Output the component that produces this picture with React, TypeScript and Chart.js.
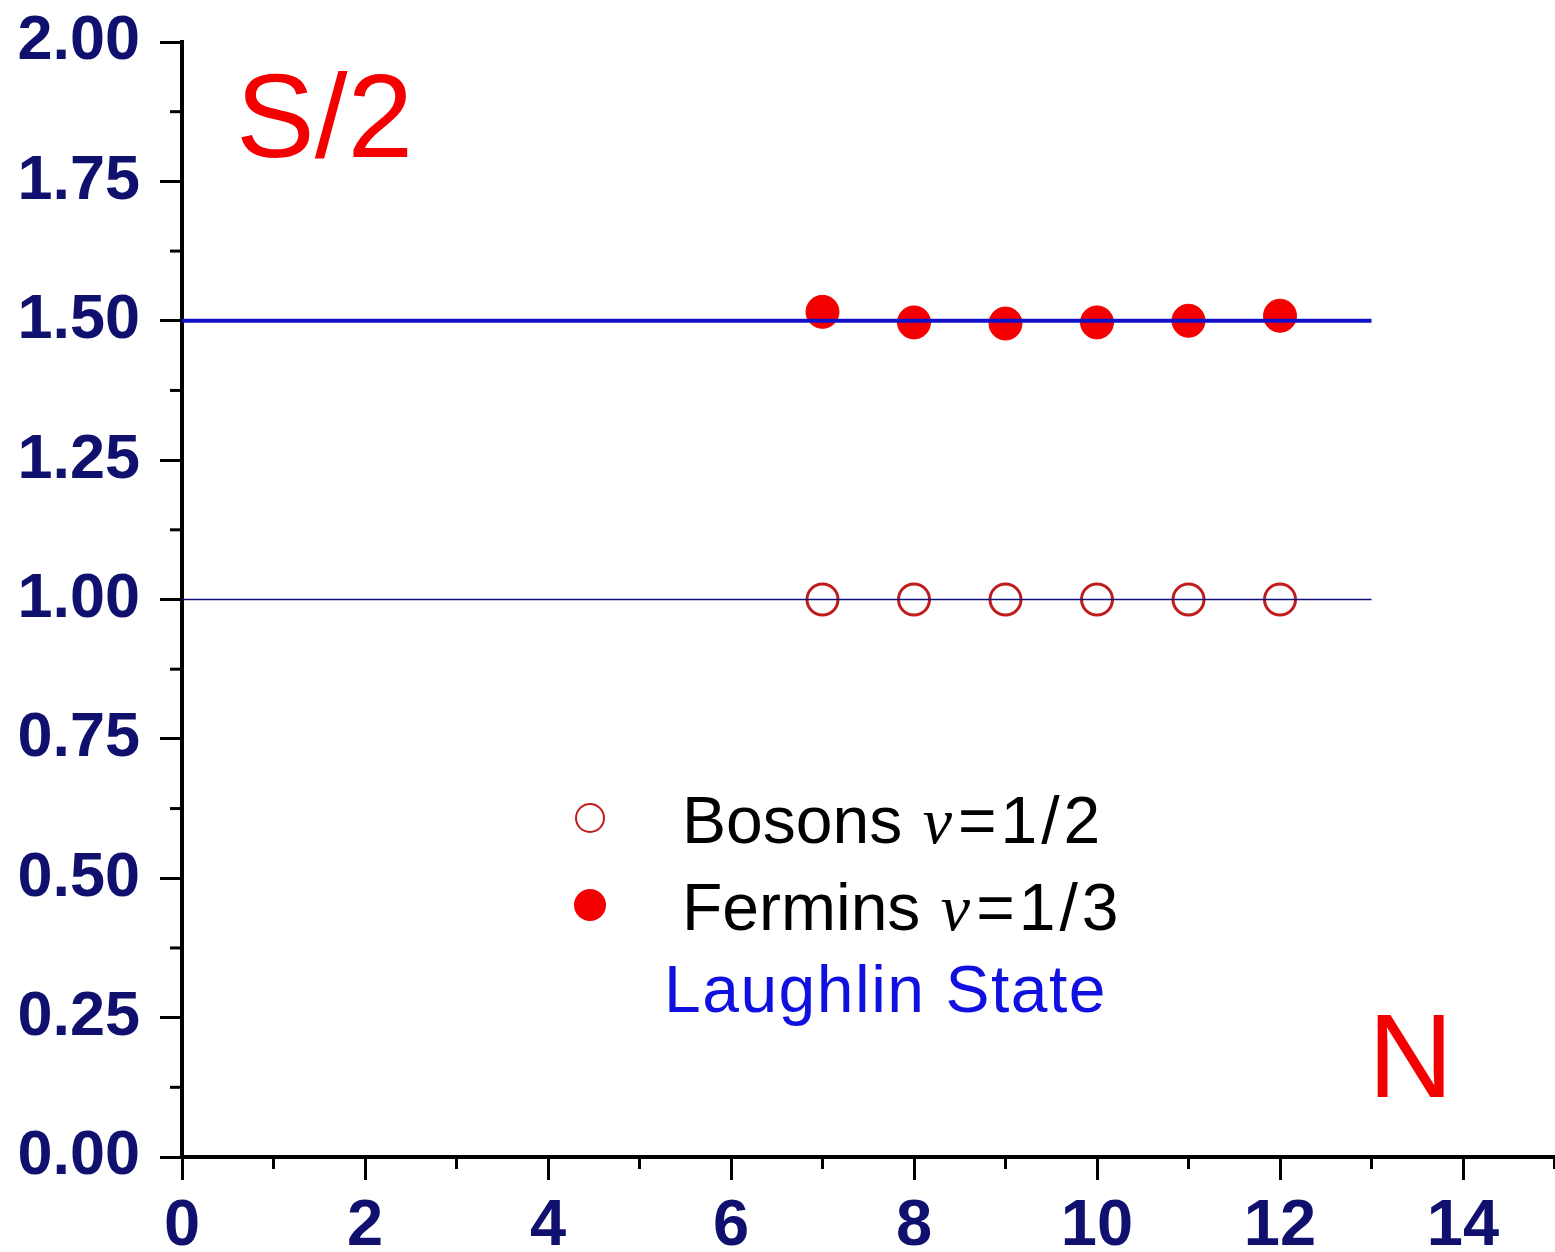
import React, { useEffect, useRef } from "react";
import { Chart, registerables } from "chart.js";

Chart.register(...registerables);

const nValues = [7, 8, 9, 10, 11, 12];
const fermionS2 = [1.516, 1.497, 1.495, 1.497, 1.5, 1.509];
const bosonS2 = [1.0, 1.0, 1.0, 1.0, 1.0, 1.0];
const lineN = [0, 13];
const laughlinFermion = [1.5, 1.5];
const laughlinBoson = [1.0, 1.0];
const xMajorLabels = [0, 2, 4, 6, 8, 10, 12, 14];
const yMajorLabels = [0, 0.25, 0.5, 0.75, 1.0, 1.25, 1.5, 1.75, 2.0];

const LABEL_COLOR = "#10106f";
const AXIS_LEFT = 182;
const AXIS_BOTTOM = 1157;
const VIEW_W = 1555;
const VIEW_H = 1252;
const CANVAS_W = 1573;

const isMajorX = (v: number) => xMajorLabels.some((m) => Math.abs(m - v) < 1e-6);
const isMajorY = (v: number) => yMajorLabels.some((m) => Math.abs(m - v) < 1e-6);

const minorTicks = {
  id: "minorTicks",
  afterDraw(chart: any) {
    const ctx = chart.ctx;
    const xs = chart.scales.x;
    const ys = chart.scales.y;
    ctx.save();
    ctx.strokeStyle = "#000";
    ctx.lineWidth = 3;
    xs.ticks.forEach((t: any) => {
      if (!isMajorX(t.value)) {
        const px = xs.getPixelForValue(t.value);
        ctx.beginPath();
        ctx.moveTo(px, ys.bottom);
        ctx.lineTo(px, ys.bottom + 12);
        ctx.stroke();
      }
    });
    ys.ticks.forEach((t: any) => {
      if (!isMajorY(t.value)) {
        const py = ys.getPixelForValue(t.value);
        ctx.beginPath();
        ctx.moveTo(xs.left - 12, py);
        ctx.lineTo(xs.left, py);
        ctx.stroke();
      }
    });
    ctx.restore();
  },
};

export default function App() {
  const ref = useRef<HTMLCanvasElement>(null);
  useEffect(() => {
    if (!ref.current) return;
    const chart = new Chart(ref.current, {
      type: "scatter",
      data: {
        datasets: [
          {
            type: "line",
            label: "Laughlin fermions",
            data: lineN.map((x, i) => ({ x, y: laughlinFermion[i] })),
            borderColor: "#1010c8",
            borderWidth: 4,
            pointRadius: 0,
          },
          {
            type: "line",
            label: "Laughlin bosons",
            data: lineN.map((x, i) => ({ x, y: laughlinBoson[i] })),
            borderColor: "#10107a",
            borderWidth: 1.5,
            pointRadius: 0,
          },
          {
            label: "Fermins ν=1/3",
            data: nValues.map((x, i) => ({ x, y: fermionS2[i] })),
            backgroundColor: "#f40000",
            borderColor: "#f40000",
            borderWidth: 1,
            pointRadius: 16.5,
            showLine: false,
          },
          {
            label: "Bosons ν=1/2",
            data: nValues.map((x, i) => ({ x, y: bosonS2[i] })),
            backgroundColor: "rgba(0,0,0,0)",
            borderColor: "#c01c1c",
            borderWidth: 3,
            pointRadius: 15.5,
            showLine: false,
          },
        ],
      },
      options: {
        animation: false,
        responsive: false,
        maintainAspectRatio: false,
        layout: { padding: { top: 42, right: 2, left: 0, bottom: 0 } },
        plugins: { legend: { display: false }, tooltip: { enabled: false } },
        scales: {
          x: {
            type: "linear",
            min: 0,
            max: 15,
            ticks: {
              stepSize: 1,
              autoSkip: false,
              maxRotation: 0,
              padding: 8,
              color: LABEL_COLOR,
              font: { family: "'Liberation Sans', Arial, sans-serif", size: 65, weight: "bold" },
              callback: (v: any) => (isMajorX(Number(v)) ? String(v) : ""),
            },
            grid: {
              drawOnChartArea: false,
              drawTicks: true,
              tickLength: 23,
              tickWidth: 3,
              tickColor: (c: any) => (c.tick && isMajorX(c.tick.value) ? "#000" : "rgba(0,0,0,0)"),
            },
            border: { display: true, color: "#000", width: 4 },
            afterFit: (s: any) => {
              s.height = VIEW_H - AXIS_BOTTOM;
              s.paddingLeft = 0;
              s.paddingRight = 0;
            },
          },
          y: {
            type: "linear",
            min: 0,
            max: 2,
            ticks: {
              stepSize: 0.125,
              autoSkip: false,
              padding: 20,
              color: LABEL_COLOR,
              font: { family: "'Liberation Sans', Arial, sans-serif", size: 63, weight: "bold" },
              callback: (v: any) => (isMajorY(Number(v)) ? Number(v).toFixed(2) : ""),
            },
            grid: {
              drawOnChartArea: false,
              drawTicks: true,
              tickLength: 22,
              tickWidth: 3,
              tickColor: (c: any) => (c.tick && isMajorY(c.tick.value) ? "#000" : "rgba(0,0,0,0)"),
            },
            border: { display: true, color: "#000", width: 4 },
            afterFit: (s: any) => {
              s.width = AXIS_LEFT;
              s.paddingTop = 0;
              s.paddingBottom = 0;
            },
          },
        },
      },
      plugins: [minorTicks],
    } as any);
    return () => chart.destroy();
  }, []);

  const txt: React.CSSProperties = {
    position: "absolute",
    fontFamily: "'Liberation Sans', Arial, sans-serif",
    lineHeight: 1,
    whiteSpace: "nowrap",
  };
  const nu: React.CSSProperties = {
    fontFamily: "'Liberation Serif', 'Times New Roman', serif",
    fontStyle: "italic",
    marginLeft: 4,
    marginRight: 6,
  };
  const tail: React.CSSProperties = { letterSpacing: 4 };

  return (
    <div
      style={{
        position: "absolute",
        left: 0,
        top: 0,
        width: VIEW_W,
        height: VIEW_H,
        overflow: "hidden",
        background: "#fff",
      }}
    >
      <canvas ref={ref} width={CANVAS_W} height={VIEW_H} style={{ position: "absolute", left: 0, top: 0 }} />
      <div style={{ ...txt, left: 236, top: 57, fontSize: 118, color: "#f40000" }}>S/2</div>
      <div style={{ ...txt, left: 1368, top: 997, fontSize: 118, color: "#f40000" }}>N</div>
      <div
        style={{
          position: "absolute",
          left: 590 - 15,
          top: 818 - 15,
          width: 26,
          height: 26,
          borderRadius: "50%",
          border: "2.5px solid #c01c1c",
        }}
      />
      <div
        style={{
          position: "absolute",
          left: 590 - 16,
          top: 905 - 16,
          width: 32,
          height: 32,
          borderRadius: "50%",
          background: "#f40000",
        }}
      />
      <div style={{ ...txt, left: 682, top: 787, fontSize: 66, color: "#000" }}>
        Bosons<span style={nu}> ν</span>
        <span style={tail}>=1/2</span>
      </div>
      <div style={{ ...txt, left: 682, top: 874, fontSize: 66, color: "#000" }}>
        Fermins<span style={nu}> ν</span>
        <span style={tail}>=1/3</span>
      </div>
      <div style={{ ...txt, left: 664, top: 956, fontSize: 66, letterSpacing: 1.5, color: "#1010e0" }}>
        Laughlin State
      </div>
    </div>
  );
}
